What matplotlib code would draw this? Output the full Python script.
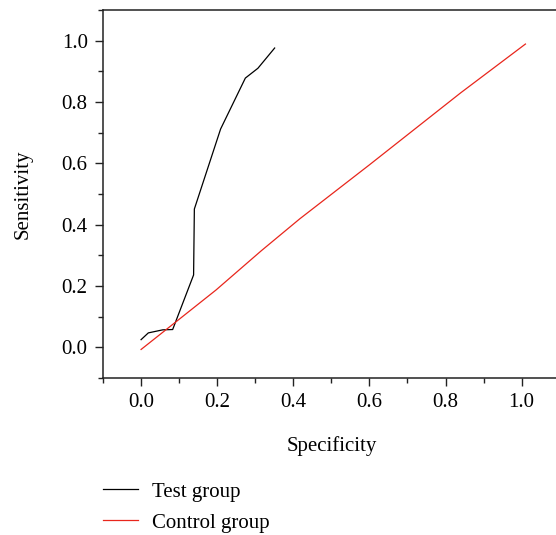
import matplotlib
matplotlib.use("Agg")
import matplotlib.pyplot as plt
from matplotlib.ticker import MultipleLocator

# ROC curves
test_x = [0.0, 0.019, 0.057, 0.083, 0.138, 0.140, 0.209, 0.274, 0.307, 0.351]
test_y = [0.025, 0.047, 0.057, 0.058, 0.236, 0.451, 0.712, 0.878, 0.910, 0.976]

control_x = [0.0, 0.09, 0.197, 0.316, 0.417, 0.6, 0.84, 1.01]
control_y = [-0.007, 0.0815, 0.187, 0.315, 0.419, 0.595, 0.83, 0.989]

labels = ["Test group", "Control group"]

plt.rcParams['font.family'] = ['Liberation Serif', 'DejaVu Serif']
plt.rcParams['font.size'] = 15

fig = plt.figure(figsize=(5.56, 5.35), dpi=100)
ax = fig.add_axes([0.1853, 0.2935, 0.8213, 0.6878])

ax.plot(test_x, test_y, color='black', lw=0.9, label=labels[0])
ax.plot(control_x, control_y, color='#e8261c', lw=0.9, label=labels[1])

ax.set_xlim(-0.1, 1.1)
ax.set_ylim(-0.1, 1.1)
ax.xaxis.set_minor_locator(MultipleLocator(0.1))
ax.yaxis.set_minor_locator(MultipleLocator(0.1))
ax.set_xticks([0, 0.2, 0.4, 0.6, 0.8, 1.0])
ax.set_yticks([0, 0.2, 0.4, 0.6, 0.8, 1.0])
ax.tick_params(which='major', direction='out', length=6, width=1, pad=5, color='#222222')
ax.tick_params(which='minor', direction='out', length=3.5, width=1, color='#222222')
for s in ax.spines.values():
    s.set_linewidth(1.1)
    s.set_color('#222222')

ax.set_xlabel('Specificity', labelpad=17)
ax.set_ylabel('Sensitivity', labelpad=21)

fig.legend(loc='upper left', bbox_to_anchor=(0.152, 0.134), frameon=False,
           handlelength=1.65, handletextpad=0.7, labelspacing=0.55)

fig.savefig('out.png', dpi=100)
